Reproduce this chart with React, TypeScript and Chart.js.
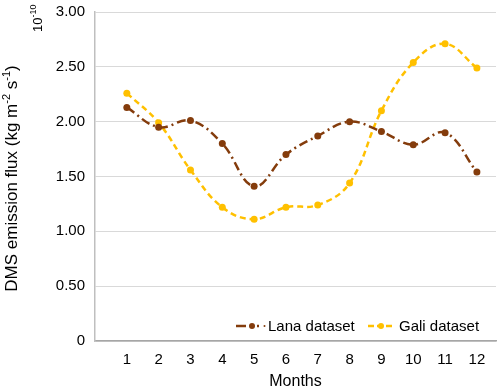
import React, { useEffect, useRef } from "react";
import { Chart, registerables } from "chart.js";

Chart.register(...registerables);

const months = [1, 2, 3, 4, 5, 6, 7, 8, 9, 10, 11, 12];
const lanaValues = [2.13, 1.95, 2.01, 1.8, 1.41, 1.7, 1.87, 2.0, 1.91, 1.79, 1.9, 1.54];
const galiValues = [2.26, 1.99, 1.56, 1.22, 1.11, 1.22, 1.24, 1.44, 2.1, 2.54, 2.71, 2.49];
const yTickValues = [0, 0.5, 1, 1.5, 2, 2.5, 3];
const seriesNames = ["Lana dataset", "Gali dataset"];
const yTitleParts = [
  { t: "DMS emission flux (kg m", sup: false },
  { t: "-2", sup: true },
  { t: " s", sup: false },
  { t: "-1", sup: true },
  { t: ")", sup: false },
];

const LANA_COLOR = "#843C0C";
const GALI_COLOR = "#FFC000";
const FONT = "'Liberation Sans', Arial, sans-serif";

const extrasPlugin = {
  id: "extras",
  afterDraw(chart: any) {
    const ctx = chart.ctx;
    const area = chart.chartArea;

    ctx.save();
    const mainFont = `17px ${FONT}`;
    const supFont = `11px ${FONT}`;
    let total = 0;
    for (const p of yTitleParts) {
      ctx.font = p.sup ? supFont : mainFont;
      total += ctx.measureText(p.t).width;
    }
    ctx.translate(12, (area.top + area.bottom) / 2 + 2);
    ctx.rotate(-Math.PI / 2);
    ctx.fillStyle = "#000";
    ctx.textBaseline = "middle";
    ctx.textAlign = "left";
    let x = -total / 2;
    for (const p of yTitleParts) {
      ctx.font = p.sup ? supFont : mainFont;
      ctx.fillText(p.t, x, p.sup ? -5 : 0);
      x += ctx.measureText(p.t).width;
    }
    ctx.restore();

    ctx.save();
    ctx.translate(38, 32);
    ctx.rotate(-Math.PI / 2);
    ctx.fillStyle = "#000";
    ctx.textAlign = "left";
    ctx.textBaseline = "middle";
    ctx.font = `13px ${FONT}`;
    ctx.fillText("10", 0, 0);
    const w10 = ctx.measureText("10").width;
    ctx.font = `9px ${FONT}`;
    ctx.fillText("-10", w10, -4);
    ctx.restore();

    const y = 326;
    ctx.save();
    ctx.lineWidth = 2.5;
    ctx.strokeStyle = LANA_COLOR;
    ctx.fillStyle = LANA_COLOR;
    ctx.setLineDash([]);
    ctx.beginPath();
    ctx.moveTo(236, y);
    ctx.lineTo(246, y);
    ctx.stroke();
    ctx.beginPath();
    ctx.moveTo(257, y);
    ctx.lineTo(259, y);
    ctx.stroke();
    ctx.beginPath();
    ctx.arc(252, y, 3, 0, Math.PI * 2);
    ctx.fill();
    ctx.beginPath();
    ctx.arc(264.5, y, 1, 0, Math.PI * 2);
    ctx.fill();
    ctx.strokeStyle = GALI_COLOR;
    ctx.fillStyle = GALI_COLOR;
    ctx.setLineDash([6, 3]);
    ctx.beginPath();
    ctx.moveTo(368, y);
    ctx.lineTo(394, y);
    ctx.stroke();
    ctx.setLineDash([]);
    ctx.beginPath();
    ctx.arc(381, y, 3, 0, Math.PI * 2);
    ctx.fill();
    ctx.fillStyle = "#000";
    ctx.font = `15px ${FONT}`;
    ctx.textAlign = "left";
    ctx.textBaseline = "middle";
    ctx.fillText(seriesNames[0], 268, y + 1);
    ctx.fillText(seriesNames[1], 399, y + 1);
    ctx.restore();
  },
};

export default function App() {
  const canvasRef = useRef<HTMLCanvasElement | null>(null);

  useEffect(() => {
    document.body.style.margin = "0";
    const canvas = canvasRef.current;
    if (!canvas) return;
    const chart = new Chart(canvas, {
      type: "line",
      data: {
        datasets: [
          {
            label: seriesNames[0],
            data: months.map((m, i) => ({ x: m, y: lanaValues[i] })),
            borderColor: LANA_COLOR,
            backgroundColor: LANA_COLOR,
            borderWidth: 2.5,
            borderDash: [9, 4, 2, 4],
            pointRadius: 3.5,
            pointBorderWidth: 0,
            tension: 0.4,
            fill: false,
          },
          {
            label: seriesNames[1],
            data: months.map((m, i) => ({ x: m, y: galiValues[i] })),
            borderColor: GALI_COLOR,
            backgroundColor: GALI_COLOR,
            borderWidth: 2.5,
            borderDash: [6, 4],
            pointRadius: 3.5,
            pointBorderWidth: 0,
            tension: 0.4,
            fill: false,
          },
        ],
      },
      options: {
        animation: false,
        responsive: false,
        devicePixelRatio: 1,
        layout: { padding: { top: 12, right: 4, left: 0, bottom: 0 } },
        plugins: {
          legend: { display: false },
          tooltip: { enabled: false },
        },
        scales: {
          x: {
            type: "linear",
            min: 0,
            max: 12.6,
            afterBuildTicks: (scale: any) => {
              scale.ticks = months.map((m) => ({ value: m }));
            },
            afterFit: (scale: any) => {
              scale.height = 50;
            },
            grid: { display: false, drawTicks: false },
            border: { display: true, color: "#A6A6A6", width: 1.5 },
            ticks: {
              color: "#000",
              font: { family: FONT, size: 15 },
              padding: 10,
              maxRotation: 0,
              autoSkip: false,
              callback: (v: any) => String(v),
            },
            title: {
              display: true,
              text: "Months",
              color: "#000",
              font: { family: FONT, size: 16 },
              padding: { top: 0, bottom: 0 },
            },
          },
          y: {
            min: 0,
            max: 3,
            afterBuildTicks: (scale: any) => {
              scale.ticks = yTickValues.map((v) => ({ value: v }));
            },
            afterFit: (scale: any) => {
              scale.width = 95;
              scale.paddingTop = 0;
              scale.paddingBottom = 0;
            },
            grid: { color: "#D9D9D9", lineWidth: 1, drawTicks: false },
            border: { display: true, color: "#BFBFBF", width: 1.5 },
            ticks: {
              color: "#000",
              font: { family: FONT, size: 15, lineHeight: 0.2 },
              padding: 10,
              callback: (v: any) => (v === 0 ? "0" : Number(v).toFixed(2)),
            },
            title: { display: false },
          },
        },
      },
      plugins: [extrasPlugin],
    } as any);
    return () => chart.destroy();
  }, []);

  return <canvas ref={canvasRef} width={500} height={391} style={{ display: "block" }} />;
}
